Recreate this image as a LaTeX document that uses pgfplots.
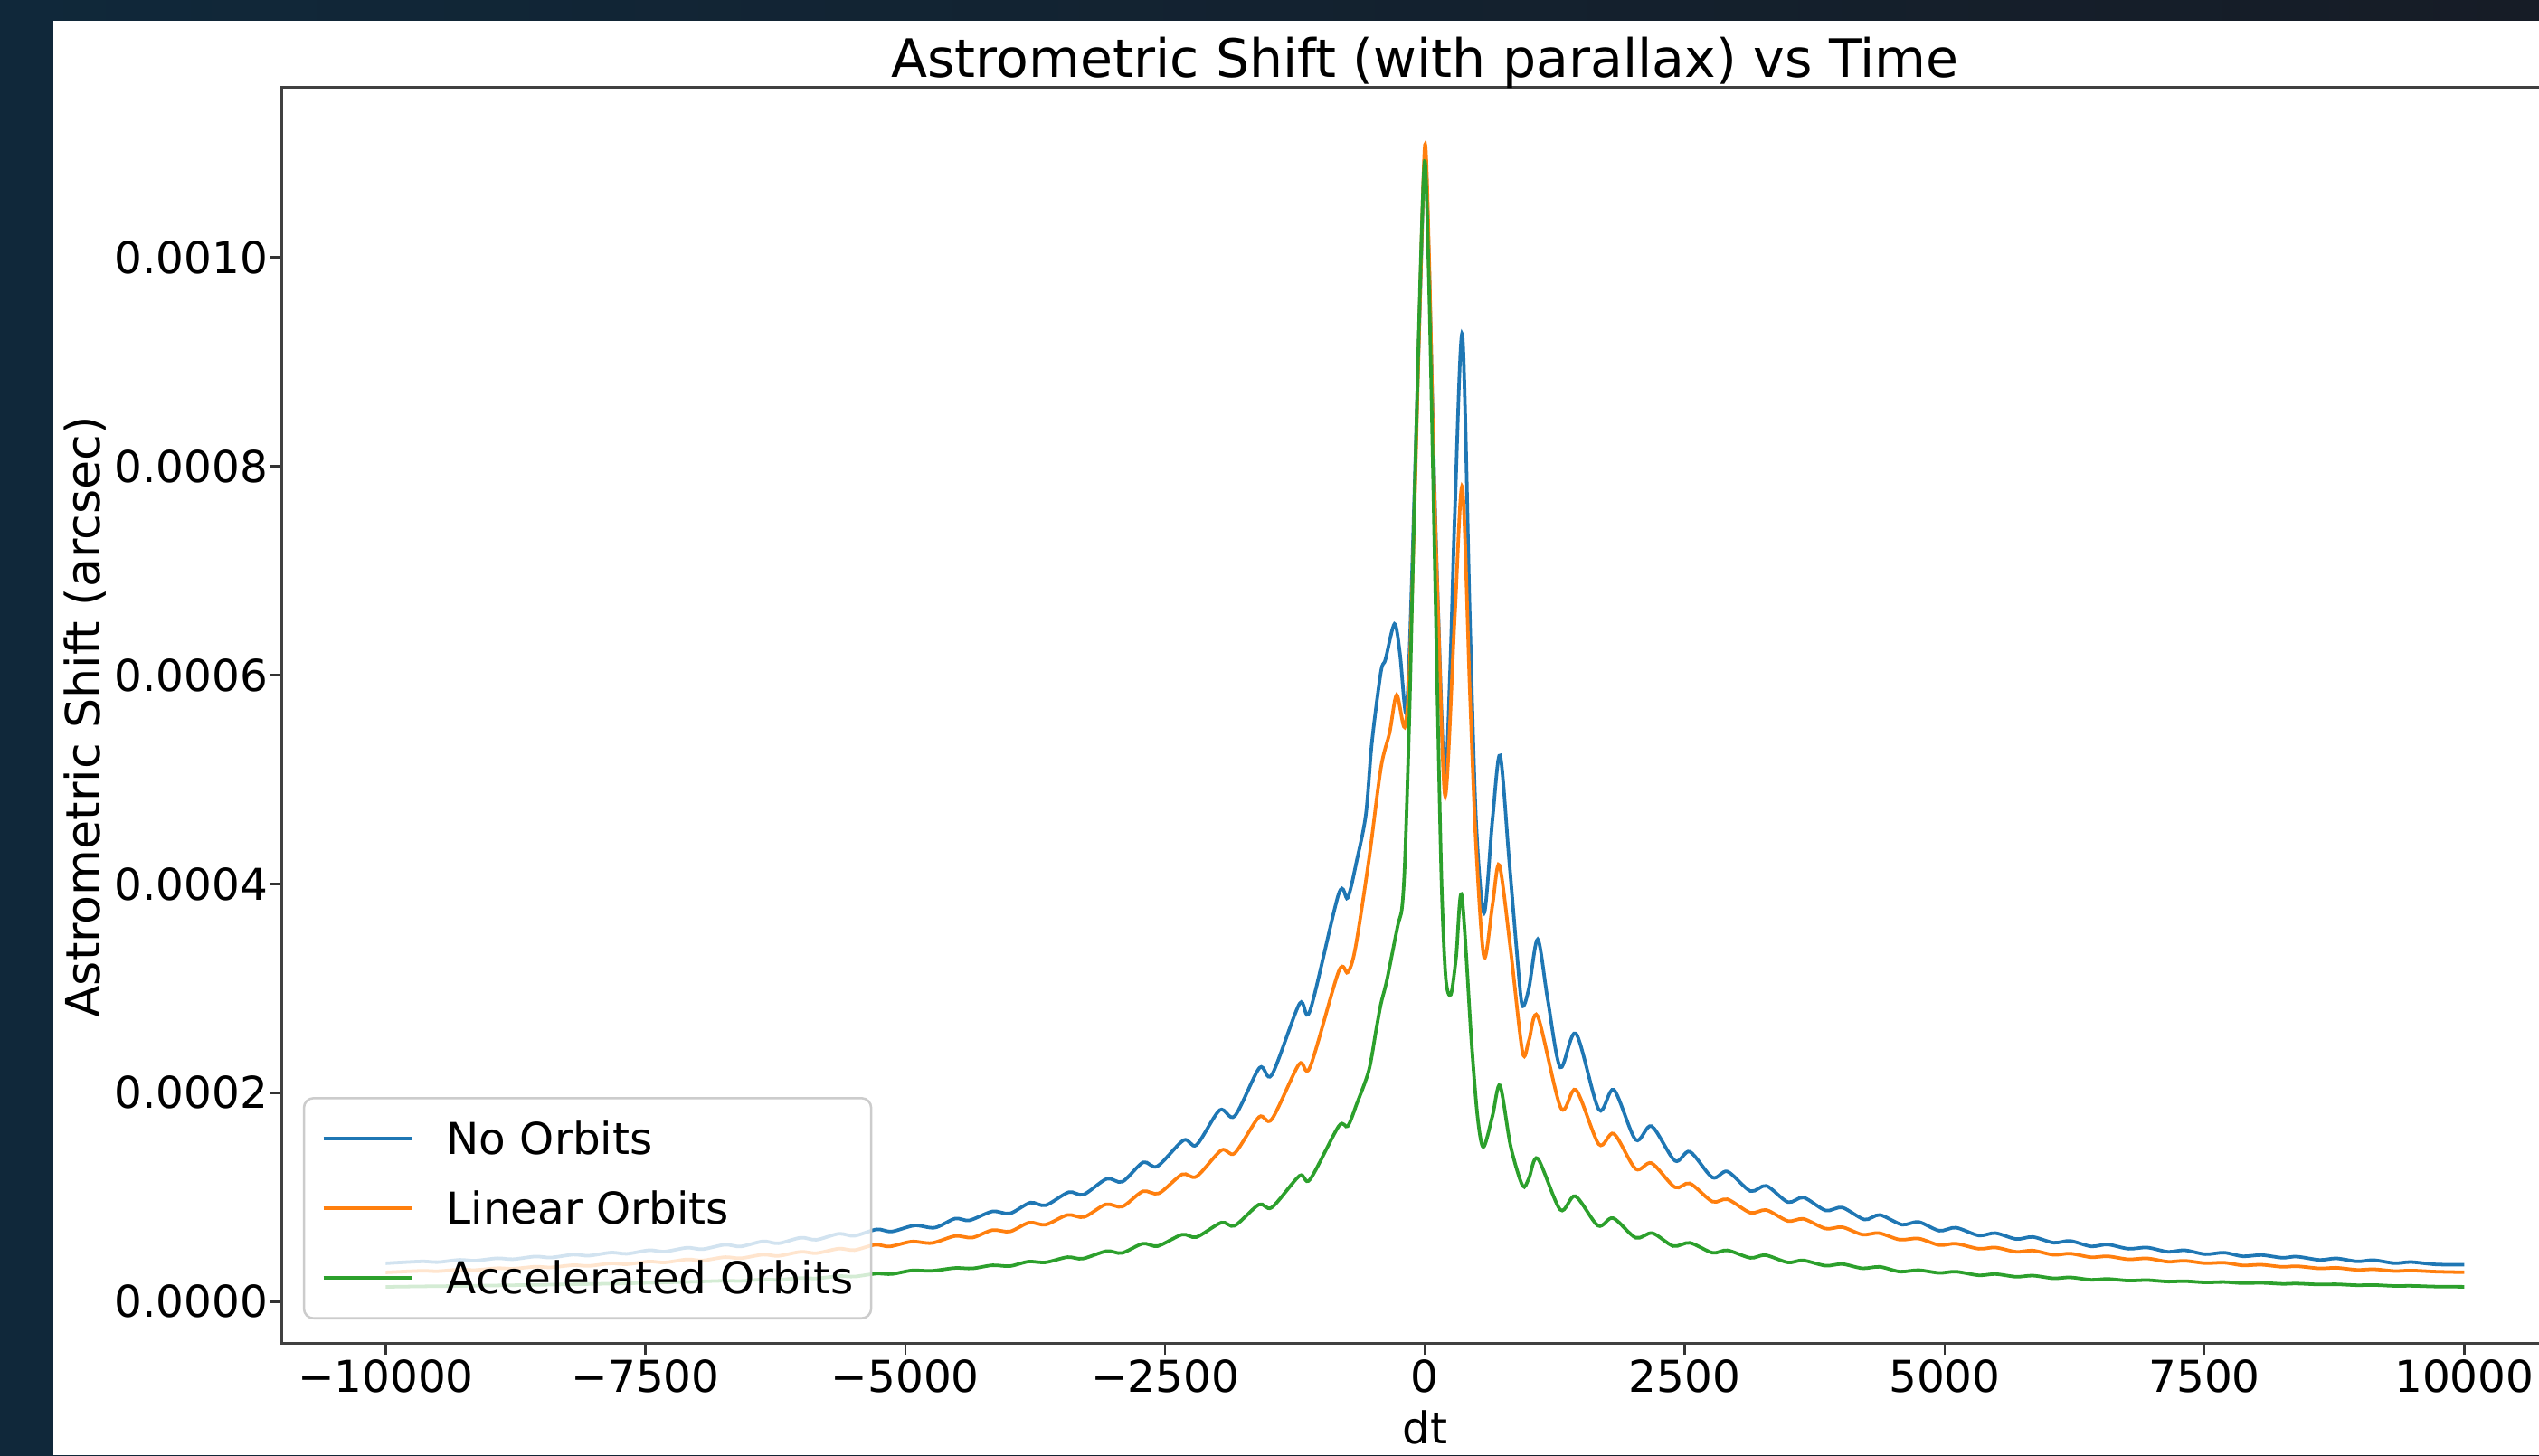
\documentclass[border=0pt]{standalone}
\usepackage{fontspec}
\setmainfont{DejaVu Sans}
\usepackage{pgfplots}
\pgfplotsset{compat=1.18}

\definecolor{mplblue}{HTML}{1F77B4}
\definecolor{mplorange}{HTML}{FF7F0E}
\definecolor{mplgreen}{HTML}{2CA02C}
\definecolor{slideA}{HTML}{10283A}
\definecolor{slideB}{HTML}{161C26}
\newcommand\tickfont{\fontsize{7.7}{9}\selectfont}

\begin{document}
\begin{tikzpicture}
\useasboundingbox (0,0) rectangle (15.68,8.99);
\shade[left color=slideA, right color=slideB] (0,0) rectangle (15.68,8.99);
\fill[white] (0.33,0) rectangle (15.68,8.86);
\clip (0,0) rectangle (15.68,8.99);
\begin{axis}[
  at={(1.74cm,0.69cm)}, anchor=south west,
  scale only axis, width=14.12cm, height=7.76cm,
  xmin=-11000, xmax=11000, ymin=-0.0403e-3, ymax=1.1628e-3,
  scaled ticks=false,
  axis line style={black!75, line width=0.45pt},
  tick pos=left, tick align=outside, major tick length=0.07cm,
  tick style={black!80, line width=0.4pt},
  xtick={-10000,-7500,-5000,-2500,0,2500,5000,7500,10000},
  xticklabels={−10000,−7500,−5000,−2500,0,2500,5000,7500,10000},
  ytick={0,0.0002,0.0004,0.0006,0.0008,0.001},
  yticklabels={0.0000,0.0002,0.0004,0.0006,0.0008,0.0010},
  ticklabel style={font=\tickfont, inner sep=0pt},
  xticklabel style={anchor=north, yshift=-0.02cm},
  yticklabel style={anchor=east, xshift=-0.01cm},
  legend style={at={(0.0092,0.0193)}, anchor=south west,
    draw=black!20, line width=0.4pt, rounded corners=0.06cm,
    fill=white, fill opacity=0.8, text opacity=1,
    inner xsep=0.11cm, inner ysep=0.15cm, row sep=0.23cm, column sep=0.2cm,
    font=\tickfont, cells={anchor=west},
    nodes={inner sep=0pt, text height=0.2cm, text depth=0pt}},
  legend image code/.code={\draw[#1] (0cm,0cm) -- (0.55cm,0cm);},
]
% no orbits
\addplot[mplblue, line width=0.6pt, smooth] coordinates {
(-10000,0.0367e-3) (-9655,0.0385e-3) (-9500,0.0378e-3) (-9290,0.0400e-3) (-9140,0.0392e-3)
(-8925,0.0415e-3) (-8775,0.0406e-3) (-8560,0.0432e-3) (-8410,0.0422e-3) (-8195,0.0450e-3)
(-8045,0.0440e-3) (-7830,0.0470e-3) (-7680,0.0458e-3) (-7465,0.0492e-3) (-7315,0.0479e-3)
(-7100,0.0516e-3) (-6950,0.0502e-3) (-6735,0.0545e-3) (-6585,0.0528e-3) (-6370,0.0577e-3)
(-6220,0.0558e-3) (-6005,0.0612e-3) (-5855,0.0592e-3) (-5640,0.0650e-3) (-5490,0.0630e-3)
(-5275,0.0692e-3) (-5132,0.0671e-3) (-4910,0.0729e-3) (-4716,0.0708e-3) (-4521,0.0795e-3)
(-4383,0.0778e-3) (-4161,0.0864e-3) (-3994,0.0844e-3) (-3797,0.0948e-3) (-3650,0.0922e-3)
(-3428,0.1048e-3) (-3285,0.1025e-3) (-3062,0.1176e-3) (-2912,0.1148e-3) (-2712,0.1334e-3)
(-2575,0.1296e-3) (-2322,0.1546e-3) (-2198,0.1500e-3) (-1975,0.1834e-3) (-1830,0.1777e-3)
(-1592,0.2239e-3) (-1473,0.2172e-3) (-1207,0.2853e-3) (-1106,0.2786e-3) (-830,0.3905e-3)
(-743,0.3867e-3) (-654,0.4234e-3) (-568,0.467e-3) (-511,0.535e-3) (-424,0.603e-3)
(-380,0.615e-3) (-293,0.649e-3) (-240,0.62e-3) (-185,0.564e-3) (-150,0.62e-3)
(-100,0.78e-3) (-50,0.95e-3) (0,1.098e-3) (40,0.99e-3) (84,0.81e-3)
(128,0.66e-3) (191,0.498e-3) (243,0.608e-3) (287,0.754e-3) (360,0.926e-3)
(432,0.656e-3) (491,0.462e-3) (568,0.372e-3) (650,0.462e-3) (723,0.523e-3)
(809,0.424e-3) (882,0.337e-3) (935,0.284e-3) (1000,0.30e-3) (1085,0.347e-3)
(1180,0.29e-3) (1302,0.2244e-3) (1453,0.2567e-3) (1673,0.1839e-3) (1818,0.2028e-3)
(2027,0.155e-3) (2181,0.168e-3) (2405,0.1349e-3) (2549,0.1436e-3) (2766,0.1189e-3)
(2911,0.1246e-3) (3131,0.1059e-3) (3285,0.1109e-3) (3492,0.0953e-3) (3643,0.0997e-3)
(3855,0.0873e-3) (4015,0.0901e-3) (4229,0.0786e-3) (4377,0.0830e-3) (4589,0.0737e-3)
(4749,0.0763e-3) (4949,0.0679e-3) (5109,0.0708e-3) (5329,0.0633e-3) (5489,0.0656e-3)
(5689,0.0599e-3) (5849,0.0619e-3) (6049,0.0564e-3) (6209,0.0581e-3) (6409,0.0529e-3)
(6569,0.0547e-3) (6769,0.0506e-3) (6949,0.0518e-3) (7149,0.0477e-3) (7309,0.0492e-3)
(7509,0.0454e-3) (7689,0.0469e-3) (7869,0.0434e-3) (8049,0.0446e-3) (8249,0.0420e-3)
(8389,0.0431e-3) (8609,0.0399e-3) (8769,0.0414e-3) (8969,0.0385e-3) (9129,0.0397e-3)
(9329,0.0368e-3) (9489,0.0379e-3) (9729,0.0356e-3) (10000,0.0353e-3)
};
\addlegendentry{No Orbits}
% linear orbits
\addplot[mplorange, line width=0.6pt, smooth] coordinates {
(-10000,0.0280e-3) (-9655,0.0295e-3) (-9500,0.0291e-3) (-9290,0.0307e-3) (-9140,0.0302e-3)
(-8925,0.0320e-3) (-8775,0.0315e-3) (-8560,0.0334e-3) (-8410,0.0328e-3) (-8195,0.0349e-3)
(-8045,0.0342e-3) (-7830,0.0366e-3) (-7680,0.0358e-3) (-7465,0.0384e-3) (-7315,0.0375e-3)
(-7100,0.0404e-3) (-6950,0.0394e-3) (-6735,0.0426e-3) (-6585,0.0415e-3) (-6370,0.0450e-3)
(-6220,0.0438e-3) (-6005,0.0477e-3) (-5855,0.0464e-3) (-5640,0.0507e-3) (-5490,0.0493e-3)
(-5290,0.0545e-3) (-5150,0.0528e-3) (-4938,0.0575e-3) (-4744,0.0561e-3) (-4521,0.0628e-3)
(-4355,0.0613e-3) (-4161,0.0685e-3) (-3994,0.0671e-3) (-3808,0.0757e-3) (-3650,0.0737e-3)
(-3439,0.0830e-3) (-3280,0.0810e-3) (-3070,0.0932e-3) (-2912,0.0910e-3) (-2715,0.1056e-3)
(-2560,0.1037e-3) (-2336,0.1219e-3) (-2198,0.1198e-3) (-1959,0.1450e-3) (-1830,0.1422e-3)
(-1597,0.1767e-3) (-1473,0.1747e-3) (-1212,0.2273e-3) (-1106,0.2245e-3) (-830,0.3163e-3)
(-743,0.3153e-3) (-670,0.3384e-3) (-539,0.4234e-3) (-424,0.511e-3) (-340,0.545e-3)
(-272,0.581e-3) (-196,0.550e-3) (-150,0.60e-3) (-100,0.76e-3) (-50,0.95e-3)
(0,1.108e-3) (40,1.0e-3) (84,0.802e-3) (128,0.657e-3) (195,0.484e-3)
(287,0.656e-3) (360,0.780e-3) (432,0.584e-3) (491,0.438e-3) (568,0.330e-3)
(650,0.380e-3) (716,0.418e-3) (824,0.337e-3) (939,0.2388e-3) (1000,0.25e-3)
(1085,0.2733e-3) (1308,0.1854e-3) (1453,0.2028e-3) (1673,0.1507e-3) (1818,0.1608e-3)
(2027,0.1271e-3) (2181,0.1326e-3) (2405,0.1095e-3) (2549,0.1132e-3) (2766,0.0958e-3)
(2911,0.0980e-3) (3131,0.0851e-3) (3285,0.0877e-3) (3492,0.0772e-3) (3643,0.0792e-3)
(3855,0.0699e-3) (4015,0.0713e-3) (4209,0.0642e-3) (4369,0.0656e-3) (4569,0.0593e-3)
(4749,0.0604e-3) (4949,0.0541e-3) (5109,0.0555e-3) (5329,0.0506e-3) (5489,0.0518e-3)
(5689,0.0477e-3) (5849,0.0489e-3) (6049,0.0448e-3) (6209,0.0460e-3) (6409,0.0425e-3)
(6569,0.0434e-3) (6769,0.0405e-3) (6949,0.0414e-3) (7149,0.0382e-3) (7309,0.0391e-3)
(7509,0.0368e-3) (7689,0.0373e-3) (7869,0.0347e-3) (8049,0.0353e-3) (8249,0.0333e-3)
(8389,0.0339e-3) (8609,0.0318e-3) (8769,0.0324e-3) (8969,0.0304e-3) (9129,0.0310e-3)
(9329,0.0293e-3) (9489,0.0298e-3) (9729,0.0287e-3) (10000,0.0281e-3)
};
\addlegendentry{Linear Orbits}
% accelerated orbits
\addplot[mplgreen, line width=0.6pt, smooth] coordinates {
(-10000,0.0141e-3) (-9655,0.0146e-3) (-9290,0.0150e-3) (-8925,0.0155e-3) (-8560,0.0160e-3)
(-8195,0.0166e-3) (-7830,0.0172e-3) (-7465,0.0180e-3) (-7100,0.0189e-3) (-6735,0.0200e-3)
(-6585,0.0198e-3) (-6370,0.0212e-3) (-6220,0.0209e-3) (-6005,0.0226e-3) (-5855,0.0222e-3)
(-5640,0.0244e-3) (-5490,0.0240e-3) (-5280,0.0268e-3) (-5130,0.0264e-3) (-4938,0.0298e-3)
(-4744,0.0295e-3) (-4521,0.0322e-3) (-4355,0.0318e-3) (-4161,0.0348e-3) (-3994,0.0340e-3)
(-3816,0.0383e-3) (-3650,0.0376e-3) (-3439,0.0426e-3) (-3294,0.0411e-3) (-3063,0.0484e-3)
(-2917,0.0465e-3) (-2715,0.0555e-3) (-2570,0.0532e-3) (-2336,0.0642e-3) (-2198,0.0618e-3)
(-1959,0.0757e-3) (-1830,0.0727e-3) (-1597,0.0930e-3) (-1473,0.0902e-3) (-1207,0.1205e-3)
(-1106,0.1170e-3) (-830,0.1680e-3) (-743,0.1680e-3) (-654,0.1900e-3) (-540,0.2214e-3)
(-470,0.2600e-3) (-424,0.2850e-3) (-366,0.3080e-3) (-264,0.3590e-3) (-221,0.3770e-3)
(-192,0.4240e-3) (-150,0.5600e-3) (-104,0.7540e-3) (-40,0.9970e-3) (0,1.092e-3)
(40,0.97e-3) (80,0.78e-3) (120,0.58e-3) (160,0.40e-3) (200,0.31e-3)
(249,0.294e-3) (300,0.33e-3) (354,0.389e-3) (447,0.250e-3) (505,0.178e-3)
(562,0.148e-3) (650,0.178e-3) (722,0.207e-3) (824,0.149e-3) (939,0.111e-3)
(1000,0.118e-3) (1085,0.137e-3) (1302,0.088e-3) (1447,0.101e-3) (1665,0.0727e-3)
(1810,0.0800e-3) (2027,0.0612e-3) (2188,0.0656e-3) (2389,0.0532e-3) (2549,0.0563e-3)
(2766,0.0468e-3) (2911,0.0491e-3) (3131,0.0419e-3) (3276,0.0445e-3) (3492,0.0375e-3)
(3637,0.0395e-3) (3855,0.0344e-3) (4015,0.0360e-3) (4209,0.0319e-3) (4377,0.0333e-3)
(4569,0.0287e-3) (4749,0.0301e-3) (4949,0.0275e-3) (5109,0.0287e-3) (5329,0.0252e-3)
(5489,0.0264e-3) (5689,0.0238e-3) (5849,0.0249e-3) (6049,0.0223e-3) (6209,0.0232e-3)
(6409,0.0209e-3) (6569,0.0217e-3) (6769,0.0201e-3) (6949,0.0206e-3) (7149,0.0192e-3)
(7309,0.0196e-3) (7509,0.0184e-3) (7689,0.0188e-3) (7869,0.0177e-3) (8049,0.0180e-3)
(8249,0.0170e-3) (8389,0.0173e-3) (8609,0.0164e-3) (8769,0.0166e-3) (8969,0.0157e-3)
(9129,0.0159e-3) (9329,0.0150e-3) (9489,0.0151e-3) (9729,0.0144e-3) (10000,0.0142e-3)
};
\addlegendentry{Accelerated Orbits}
\end{axis}
\node[font=\fontsize{9.3}{11}\selectfont, anchor=base] at (8.80,8.51) {Astrometric Shift (with parallax) vs Time};
\node[font=\tickfont, anchor=base] at (8.80,0.07) {dt};
\node[font=\fontsize{8.3}{9.7}\selectfont, anchor=base, rotate=90] at (0.62,4.56) {Astrometric Shift (arcsec)};
\end{tikzpicture}
\end{document}
